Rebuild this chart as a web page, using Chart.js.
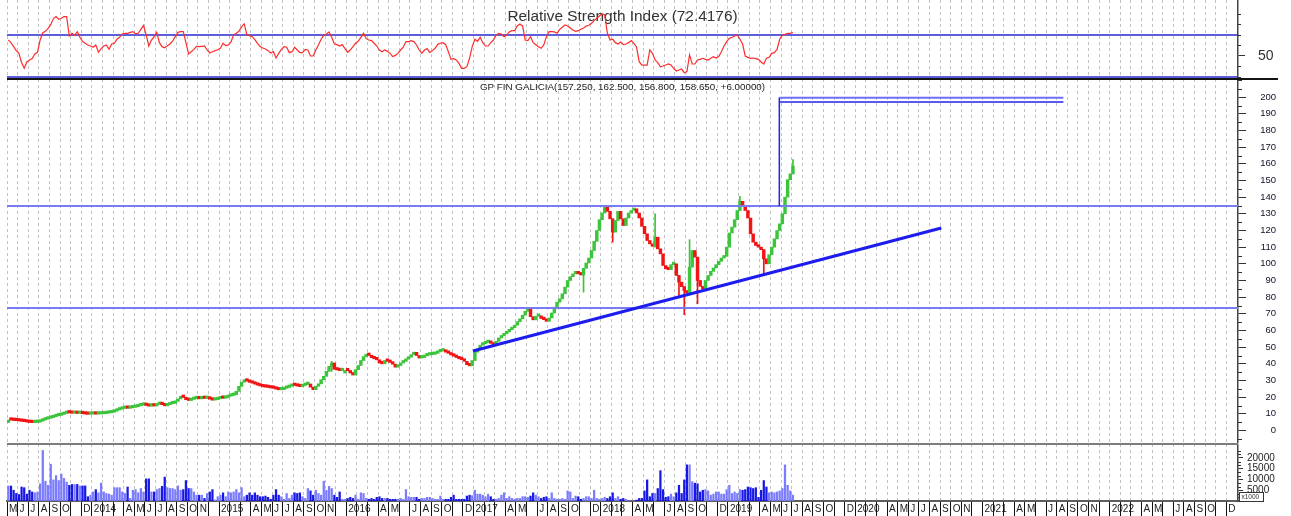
<!DOCTYPE html>
<html>
<head>
<meta charset="utf-8">
<script src="https://cdn.jsdelivr.net/npm/chart.js@4.4.1/dist/chart.umd.min.js"></script>
<style>
html,body{margin:0;padding:0;background:#fff;}
#wrap{position:relative;width:1291px;height:516px;overflow:hidden;background:#fff;}
#wrap canvas{position:absolute;left:0;}
.sep{position:absolute;}
</style>
</head>
<body>
<div id="wrap">
  <canvas id="rsiChart" width="1291" height="79" style="top:0px"></canvas>
  <canvas id="priceChart" width="1291" height="364" style="top:79px"></canvas>
  <canvas id="volChart" width="1291" height="72" style="top:444px"></canvas>
  <div class="sep" style="left:7px;top:78px;width:1271px;height:2px;background:#141414"></div>
  <div class="sep" style="left:7px;top:443px;width:1231px;height:2px;background:#7c7c7c"></div>
</div>
<script>
/* weekly data, 4 bars per month, first bar = May 2013 */

const close2013 = [6.3,6.2,6.0,5.9,5.7,5.5,5.3,5.0,4.8,4.7,4.8,5.0,5.6,6.3,6.8,7.3,7.7,8.3,8.8,9.1,9.6,10.2,10.6,10.5,10.3,10.5,10.2,10.3,10.1,9.8,9.7,9.8];
const close2014 = [9.9,9.8,9.9,10.0,10.1,10.4,10.6,11.0,11.6,12.3,12.8,13.2,13.4,13.3,13.6,13.9,14.3,14.8,15.2,15.3,15.0,14.6,14.9,14.7,15.6,16.3,15.5,14.8,15.4,16.0,16.3,17.5,19.0,20.3,19.8,18.5,18.0,18.6,19.1,19.3,19.0,19.5,19.2,19.3,18.8,18.2,18.5,19.0];
const close2015 = [19.4,19.3,19.8,20.6,21.0,21.5,23.5,26.5,29.0,30.3,29.6,28.9,28.4,27.8,27.2,26.7,26.2,26.0,25.8,25.5,25.3,24.8,24.4,24.5,25.3,25.8,26.5,27.1,27.0,26.6,26.3,27.0,27.6,27.9,26.0,24.5,26.5,28.0,30.5,32.5,35.5,38.5,40.5,36.7,36.3,35.9,36.0,36.0];
const close2016 = [35.8,34.5,33.3,36.5,39.0,42.0,44.3,45.7,45.0,43.7,43.0,42.4,40.5,40.0,42.0,41.5,40.8,39.8,38.0,39.0,40.5,41.5,42.8,44.0,45.5,46.9,45.0,43.5,43.8,44.8,45.3,45.5,45.7,46.3,47.2,47.7,47.8,47.0,46.3,45.3,44.6,43.8,43.0,42.5,41.5,39.5,38.8,42.0];
const close2017 = [47.0,48.8,51.2,52.0,52.8,53.3,52.3,51.3,53.5,55.5,56.8,58.0,59.2,60.5,61.7,63.2,65.3,67.0,69.2,71.5,73.0,68.3,66.4,68.5,68.8,67.2,66.5,65.5,67.5,70.5,74.0,77.0,79.0,82.0,86.0,90.0,92.3,94.0,95.5,94.0,93.3,97.3,100.5,103.5,108.0,113.5,120.0,126.5];
const close2018 = [130.5,134.5,131.5,127.0,119.0,126.0,131.5,127.0,123.0,127.5,130.5,132.0,133.0,130.5,127.5,122.5,118.0,114.0,112.0,110.5,116.0,109.0,106.0,99.0,97.0,96.5,99.5,100.0,93.0,89.0,86.3,84.0,82.5,98.0,108.0,104.0,90.0,86.5,85.0,90.0,93.0,95.5,97.5,99.5,101.5,103.5,104.5,110.0];
const close2019 = [118.5,122.0,126.5,132.0,137.5,135.0,132.0,127.5,118.0,113.0,111.0,110.0,108.5,103.0,100.0,105.5,110.0,115.0,120.0,124.0,130.0,140.0,150.5,154.0,158.65];

const vol2013 = [6970,6970,5000,3500,3000,6500,6200,3200,5000,4200,3800,4200,8000,23500,9200,7300,17100,9800,11800,9500,12600,10500,8800,7300,7700,7700,7700,7000,7000,7000,2000,2700];
const vol2014 = [4200,5300,3800,8300,4200,3500,3200,2700,6200,6200,6200,4200,3500,6500,1200,5000,5300,3800,5800,4200,10300,10300,4200,4200,5300,5800,6800,11100,6200,5800,5800,5300,7000,5000,5300,9500,5800,5800,4200,2700,2700,2700,1200,3500,4200,5300,500,2000];
const vol2015 = [2700,3800,2000,4200,3800,4200,5300,3800,6200,2000,2700,3800,2700,3800,2700,2000,2000,2300,1700,800,2700,5300,2700,2000,800,3500,1200,2700,3800,3500,3800,2000,1200,5800,4700,2700,5000,3500,2700,9200,5000,6800,5800,2700,1700,4200,800,800];
const vol2016 = [1200,1700,1200,2700,800,3800,3500,1200,800,1200,800,1700,2000,1200,1200,1200,800,800,800,800,1200,800,5300,2000,1700,1700,1700,800,1200,1200,1700,1700,1200,800,800,2300,800,800,800,1700,2700,800,800,800,800,2300,2700,2500];
const vol2017 = [5000,3200,3200,2700,2000,3200,2000,800,800,1200,2700,3800,1200,2000,1200,800,1200,1200,2000,2000,1700,2300,3800,2700,2000,1200,1700,2000,1200,3800,1200,800,800,1200,800,4700,4200,1200,2300,2000,800,1200,2000,2000,1200,5000,1200,800];
const vol2018 = [1200,1700,1200,2000,3800,1200,2000,800,1200,800,150,0,0,450,1200,1200,4700,9800,2000,3500,3500,5800,14100,5300,1700,2000,3200,2000,3800,7300,3500,9800,16800,16800,9000,8300,8000,4200,5000,5300,4700,2700,3200,4200,4200,3200,3200,5300];
const vol2019 = [7300,3500,4200,3500,5300,5000,5300,6500,6200,5800,6200,1700,5000,9500,6500,3800,4200,3800,4200,4700,5800,16800,7300,4700,2700];

const rsi2013 = [65.2,62.7,58.9,55.1,52.5,43.7,38.3,44.3,46.2,47.5,51.9,53.5,65.2,72.2,73.5,76.3,79.8,85.6,87.5,84.9,85.9,87.5,87.5,69,71.6,69.7,73.2,67.8,63.7,62.1,60.5,59.5];
const rsi2014 = [58.3,60.5,53.5,57,59.5,60.5,56.3,61.4,62.1,65.9,67.8,71,71.6,71.6,72.5,73.2,71,71.6,75.4,79.2,70,59.5,65.2,68.4,72.5,62.7,58.9,57.9,59.8,61.4,64.3,68.4,72.5,73.2,73.2,62.7,51.9,54.1,56.3,59.2,58.9,59.2,59.5,55.7,52.9,54.1,55.1,56];
const rsi2015 = [57.3,62.1,59.8,60.5,63.3,70,71.6,73.5,77.9,80.5,70,69.4,68.4,65.6,62.1,58.9,57.6,56.7,55.1,52.9,54.1,48.1,52.5,56.3,58.9,58.3,53.2,54.1,58.3,55.7,53.2,53.2,56.3,55.7,50,50,55.7,60.5,65.9,69.7,71,72.9,67.8,61.4,60.8,59.5,60.8,57];
const rsi2016 = [53.5,55.7,58.9,62.1,64,67.8,71.6,66.5,65.2,64.6,62.1,59.5,55.7,54.1,55.7,54.4,52.5,49.4,50.6,52.5,55.7,58.3,63.7,63.7,64.6,63.7,60.5,55.7,52.5,55.7,57,53.2,55.1,57.3,61.1,62.1,62.7,60.8,54.1,46.8,47.5,46.2,43,38.3,38.3,39.8,47.8,58.9];
const rsi2017 = [65.9,64,67.8,62.7,59.5,59.5,62.7,65.2,69.7,71.6,71,68.4,70,72.9,74.1,74.1,78.6,80.5,78.6,65.2,64.6,68.4,62.7,60.8,58.9,57.3,60.5,68.4,73.2,73.2,72.9,71.6,75.4,77.3,79.5,78.6,76.7,74.8,73.5,74.1,75.4,76.7,78.6,79.2,81.1,83.7,85.9,88.1];
const rsi2018 = [90,89,71.6,65.2,65.9,62.7,61.4,63.3,60.8,61.4,62.7,64.6,62.1,58.3,44.6,41.4,41.4,41.4,55.7,52.5,46.2,43.7,39.8,40.5,41.4,42.4,41.4,38.3,35.7,36.7,37.6,34.1,35.1,51,42.4,42.4,46.2,46.8,47.8,46.8,46.2,47.8,49.4,48.1,49.4,54.1,59.5,63.7];
const rsi2019 = [66.8,67.8,69,70,65.9,61.4,50,48.7,47.8,48.1,47.5,46.8,44.3,42.4,47.8,48.7,52.5,53.2,56.3,65.9,69.7,70.6,71.6,71.6,72.4];

/* a few long shadows (bar index, low, high) */
const wickBar  = [122, 217, 228, 244, 253, 255, 257, 260, 276, 285, 296];
const wickLow  = [35.5, 83, 113, 110, 81, 69.5, 82.5, 76, 132, 94, 154];
const wickHigh = [41.5, 97.3, 127, 130, 93, 86.3, 114.5, 104, 140.5, 108.5, 162.5];

/* drawn objects on the price panel (x in months since Jan 2013) */
const resistance = 134.7;
const support = 73.5;
const trendX = [47.94, 92.12];
const trendY = [47.7, 121.5];
const targetX = [76.84, 103.63];
const targetHigh = 199.7;
const targetLow = 197.1;
const rsiBands = [70, 30];

/* month labels, May 2013 .. Dec 2022 */
const lab2013 = ['M','J','J','A','S','O','','D'];
const lab2014 = ['2014','','','A','M','J','J','A','S','O','N',''];
const lab2015 = ['2015','','','A','M','J','J','A','S','O','N',''];
const lab2016 = ['2016','','','A','M','','J','A','S','O','','D'];
const lab2017 = ['2017','','','A','M','','J','A','S','O','','D'];
const lab2018 = ['2018','','','A','M','','J','A','S','O','','D'];
const lab2019 = ['2019','','','A','M','J','J','A','S','O','','D'];
const lab2020 = ['2020','','','A','M','J','J','A','S','O','N',''];
const lab2021 = ['2021','','','A','M','','J','A','S','O','N',''];
const lab2022 = ['2022','','','A','M','','J','A','S','O','','D'];

const priceTicks = [0,10,20,30,40,50,60,70,80,90,100,110,120,130,140,150,160,170,180,190,200];
const rsiTicks = [50];
const volTicks = [5000,10000,15000,20000];

const FIRST_MONTH = 4;
const LAST_MONTH = 120.1;
const FONT = '"Liberation Sans", Arial, sans-serif';
const GREEN = '#3cc43c';
const RED = '#f21414';


const closes = [].concat(close2013, close2014, close2015, close2016, close2017, close2018, close2019);
const volumes = [].concat(vol2013, vol2014, vol2015, vol2016, vol2017, vol2018, vol2019);
const rsiValues = [].concat(rsi2013, rsi2014, rsi2015, rsi2016, rsi2017, rsi2018, rsi2019);
const monthLabels = [].concat(lab2013, lab2014, lab2015, lab2016, lab2017, lab2018, lab2019, lab2020, lab2021, lab2022);

function barX(i){
   return FIRST_MONTH + (i + 0.5) / 4;
}

const opens = closes.map((c, i) => i === 0 ? c : closes[i - 1]);
const isUp = closes.map((c, i) => c >= opens[i]);

const candleData = closes.map((c, i) => ({ x: barX(i), y: [opens[i], c] }));
const candleColors = isUp.map(u => u ? GREEN : RED);

const wickData = wickBar.map((b, k) => ({ x: barX(b), y: [wickLow[k], wickHigh[k]] }));
const wickColors = wickBar.map(b => isUp[b] ? GREEN : RED);

const volData = volumes.map((v, i) => ({ x: barX(i), y: v }));
const volColors = isUp.map(u => u ? '#7b7bff' : '#1818e6');

const rsiData = rsiValues.map((r, i) => ({ x: barX(i), y: r }));


function timeAxis(showLabels){
   return {
      type: 'linear',
      min: FIRST_MONTH,
      max: LAST_MONTH,
      offset: false,
      afterBuildTicks: s => { s.ticks = monthLabels.map((_, i) => ({ value: FIRST_MONTH + i })); },
      afterFit: s => { s.height = showLabels ? 15 : 0; s.paddingLeft = 0; s.paddingRight = 0; },
      grid: {
         color: '#c2c2c2',
         lineWidth: 1,
         offset: false,
         drawTicks: showLabels,
         tickLength: 15,
         tickColor: '#111',
         tickWidth: 1,
         tickBorderDash: []
      },
      border: showLabels
         ? { display: true, color: '#5e5e5e', width: 2, dash: [3, 3] }
         : { display: false, dash: [3, 3] },
      ticks: {
         display: showLabels,
         autoSkip: false,
         maxRotation: 0,
         minRotation: 0,
         align: 'start',
         labelOffset: 2,
         padding: -13,
         color: '#1a1a1a',
         font: { family: FONT, size: 10 },
         callback: (v, i) => monthLabels[i]
      }
   };
}

function valueAxis(min, max, values, o){
   return {
      type: 'linear',
      position: 'right',
      min: min,
      max: max,
      afterBuildTicks: s => { s.ticks = values.map(v => ({ value: v })); },
      afterFit: s => { s.width = o.width; s.paddingTop = 0; s.paddingBottom = 0; },
      grid: {
         drawOnChartArea: false,
         drawTicks: true,
         tickLength: o.tickLength,
         color: '#333',
         tickColor: '#333',
         tickWidth: 1
      },
      border: { display: true, color: '#454545', width: 1.5 },
      ticks: {
         crossAlign: o.crossAlign,
         padding: o.padding,
         color: o.color,
         font: { family: FONT, size: o.size },
         callback: v => String(v)
      }
   };
}

/* small helper plugins */
function titlePlugin(text, y, font, color){
   return {
      id: 'panelTitle',
      beforeDatasetsDraw(chart){
         const a = chart.chartArea;
         const ctx = chart.ctx;
         ctx.save();
         ctx.font = font;
         ctx.fillStyle = color;
         ctx.textAlign = 'center';
         ctx.textBaseline = 'middle';
         ctx.fillText(text, (a.left + a.right) / 2, y);
         ctx.restore();
      }
   };
}

function minorTicks(values, len){
   return {
      id: 'minorTicks',
      afterDraw(chart){
         const s = chart.scales.y;
         const ctx = chart.ctx;
         ctx.save();
         ctx.strokeStyle = '#333';
         ctx.lineWidth = 1;
         ctx.beginPath();
         values.forEach(v => {
            if (v < s.min || v > s.max) return;
            const y = Math.round(s.getPixelForValue(v)) + 0.5;
            ctx.moveTo(s.left, y);
            ctx.lineTo(s.left + len, y);
         });
         ctx.stroke();
         ctx.restore();
      }
   };
}

const unitBox = {
   id: 'unitBox',
   afterDraw(chart){
      const s = chart.scales.y;
      const ctx = chart.ctx;
      const x = s.left + 1;
      const y = 48;
      ctx.save();
      ctx.fillStyle = '#fff';
      ctx.fillRect(x, y, 24, 9);
      ctx.strokeStyle = '#333';
      ctx.lineWidth = 1;
      ctx.strokeRect(x + 0.5, y + 0.5, 24, 9);
      ctx.fillStyle = '#333';
      ctx.font = '6.5px ' + FONT;
      ctx.textBaseline = 'middle';
      ctx.fillText('x1000', x + 2.5, y + 5);
      ctx.restore();
   }
};

const priceMinor = [];
for (let v = -5; v <= 210; v += 5) {
   if (v % 10 !== 0 || v < 0 || v > 200) priceMinor.push(v);
}
const rsiMinor = [30, 40, 60, 70, 80, 90];
const volMinor = [];
for (let k = 1; k <= 15; k++) {
   if (k % 3 !== 0) volMinor.push(k * 5000 / 3);
}

function baseOptions(rightPad){
   return {
      responsive: false,
      animation: false,
      devicePixelRatio: 1,
      events: [],
      layout: { padding: { left: 7, right: rightPad, top: 0, bottom: 0 } },
      plugins: { legend: { display: false }, tooltip: { enabled: false } }
   };
}


/* RSI panel */
new Chart(document.getElementById('rsiChart'), {
   type: 'line',
   data: {
      datasets: [
         {
            data: rsiData,
            borderColor: '#ff2c2c',
            borderWidth: 1.2,
            pointRadius: 0,
            tension: 0
         },
         ...rsiBands.map(b => ({
            data: [{ x: FIRST_MONTH, y: b }, { x: LAST_MONTH, y: b }],
            borderColor: '#2a2ad2',
            borderWidth: 1.5,
            pointRadius: 0
         }))
      ]
   },
   options: {
      ...baseOptions(0),
      scales: {
         x: timeAxis(false),
         y: valueAxis(28.1, 103.3, rsiTicks, { width: 53, tickLength: 7, crossAlign: 'near', padding: 13, color: '#303030', size: 14 })
      }
   },
   plugins: [
      titlePlugin('Relative Strength Index (72.4176)', 17, '15.4px ' + FONT, '#333'),
      minorTicks(rsiMinor, 3)
   ]
});


/* price panel */
new Chart(document.getElementById('priceChart'), {
   type: 'bar',
   data: {
      datasets: [
         {
            type: 'line',
            data: trendX.map((x, k) => ({ x: x, y: trendY[k] })),
            borderColor: '#1c1cf0',
            borderWidth: 3,
            pointRadius: 0
         },
         {
            type: 'line',
            data: [{ x: targetX[0], y: resistance }, { x: targetX[0], y: targetHigh }],
            borderColor: '#2424e4',
            borderWidth: 1.5,
            pointRadius: 0
         },
         {
            type: 'line',
            data: targetX.map(x => ({ x: x, y: targetHigh })),
            borderColor: '#6e6ef8',
            borderWidth: 2,
            pointRadius: 0
         },
         {
            type: 'line',
            data: targetX.map(x => ({ x: x, y: targetLow })),
            borderColor: '#2424e4',
            borderWidth: 1.5,
            pointRadius: 0
         },
         ...[resistance, support].map(lv => ({
            type: 'line',
            data: [{ x: FIRST_MONTH, y: lv }, { x: LAST_MONTH, y: lv }],
            borderColor: '#7a7af4',
            borderWidth: 2.2,
            pointRadius: 0
         })),
         {
            data: candleData,
            backgroundColor: candleColors,
            barThickness: 2.8,
            minBarLength: 2.5,
            grouped: false
         },
         {
            data: wickData,
            backgroundColor: wickColors,
            barThickness: 1,
            grouped: false
         }
      ]
   },
   options: {
      ...baseOptions(15),
      scales: {
         x: timeAxis(false),
         y: valueAxis(-7.5, 210.9, priceTicks, { width: 38, tickLength: 8, crossAlign: 'far', padding: 4, color: '#10102a', size: 9.5 })
      }
   },
   plugins: [
      titlePlugin('GP FIN GALICIA(157.250, 162.500, 156.800, 158.650, +6.00000)', 8, '9.8px ' + FONT, '#222'),
      minorTicks(priceMinor, 4)
   ]
});


/* volume panel */
new Chart(document.getElementById('volChart'), {
   type: 'bar',
   data: {
      datasets: [{
         data: volData,
         backgroundColor: volColors,
         barThickness: 1.6,
         grouped: false
      }]
   },
   options: {
      ...baseOptions(0),
      scales: {
         x: timeAxis(true),
         y: valueAxis(0, 26500, volTicks, { width: 53, tickLength: 5, crossAlign: 'near', padding: 4, color: '#222', size: 10 })
      }
   },
   plugins: [ minorTicks(volMinor, 3), unitBox ]
});
</script>
</body>
</html>
